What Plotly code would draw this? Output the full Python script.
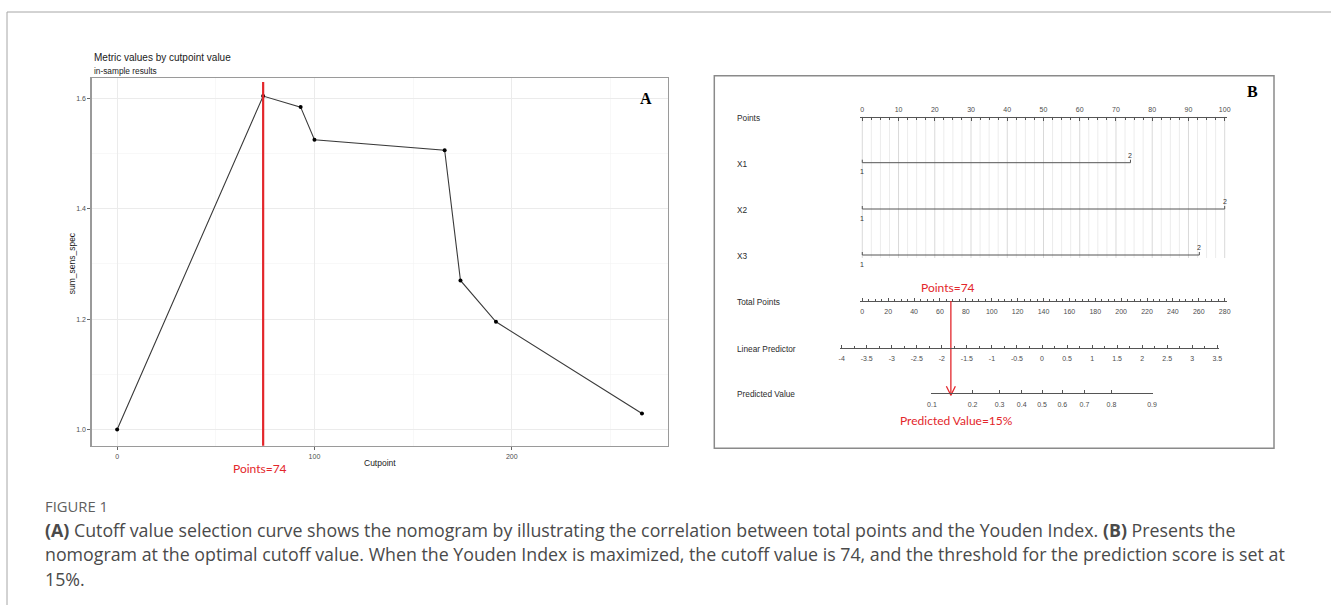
import math
import plotly.graph_objects as go

W, H = 1331, 605

# ---------------- Panel A data ----------------
cutpoints = [0, 74, 93, 100, 166, 174, 192, 266]
sum_sens_spec = [1.000, 1.604, 1.584, 1.525, 1.506, 1.270, 1.195, 1.029]
optimal_cutpoint = 74
a_x_ticks = [0, 100, 200]
a_y_ticks = [1.0, 1.2, 1.4, 1.6]

# ---------------- Panel B data (nomogram) ----------------
points_ticks = list(range(0, 101, 10))
points_minor_step = 2.5
predictors = ["X1", "X2", "X3"]
level_labels = ["1", "2"]
predictor_points = [[0, 74], [0, 100], [0, 93]]
total_points_ticks = list(range(0, 281, 20))
total_points_minor_step = 5
lp_ticks = [-4, -3.5, -3, -2.5, -2, -1.5, -1, -0.5, 0, 0.5, 1, 1.5, 2, 2.5, 3, 3.5]
lp_tick_labels = ["-4", "-3.5", "-3", "-2.5", "-2", "-1.5", "-1", "-0.5", "0",
                  "0.5", "1", "1.5", "2", "2.5", "3", "3.5"]
pred_value_ticks = [0.1, 0.2, 0.3, 0.4, 0.5, 0.6, 0.7, 0.8, 0.9]
pred_value_labels = ["0.1", "0.2", "0.3", "0.4", "0.5", "0.6", "0.7", "0.8", "0.9"]
optimal_total_points = 74
optimal_lp = -1.82
optimal_pred_label = "15%"

caption_head = "FIGURE 1"
caption_lines = [
    "<b>(A)</b> Cutoff value selection curve shows the nomogram by illustrating the correlation between total points and the Youden Index. <b>(B)</b> Presents the",
    "nomogram at the optimal cutoff value. When the Youden Index is maximized, the cutoff value is 74, and the threshold for the prediction score is set at",
    "15%.",
]

# ---------------- layout helpers ----------------
def fx(px):
    return px / W

def fy(py):
    return 1 - py / H

def logit(p):
    return math.log(p / (1 - p))

RED = "#e3262b"
AX_FONT = "Liberation Sans, Arial, sans-serif"
GREY_TXT = "#4d4d4d"
NOMO_LINE = "#555555"
CAP_FONT = "Open Sans, sans-serif"

# Panel A geometry (pixels)
A_L, A_R, A_T, A_B = 91.7, 668.0, 78.3, 445.7
A_XR = [-12.9, 279.2]
A_YR = [0.9706, 1.6362]

# Panel B geometry (pixels)
B_BOX = (714.3, 75.7, 1274.0, 448.3)
PTS_L, PTS_R = 862.3, 1224.7           # pixel of 0 and 100 on Points scale
LP_L, LP_R = 841.7, 1217.3             # pixel of -4 and 3.5 on LP scale
ROW = {"Points": 116.7, "X1": 162.7, "X2": 209.0, "X3": 255.0,
       "Total Points": 301.0, "Linear Predictor": 347.7, "Predicted Value": 393.3}
LABEL_X = 735.0

pad_pts = 0.6
pts_ppu = (PTS_R - PTS_L) / 100.0
pts_domain = [fx(PTS_L - pad_pts * pts_ppu), fx(PTS_R + pad_pts * pts_ppu)]
pts_range = [-pad_pts, 100 + pad_pts]

tp_ppu = (PTS_R - PTS_L) / 280.0
tp_pad = pad_pts * pts_ppu / tp_ppu
tp_range = [-tp_pad, 280 + tp_pad]

lp_ppu = (LP_R - LP_L) / 7.5
lp_pad = 0.04
lp_domain = [fx(LP_L - lp_pad * lp_ppu), fx(LP_R + lp_pad * lp_ppu)]
lp_range = [-4 - lp_pad, 3.5 + lp_pad]

pv_lo, pv_hi = logit(pred_value_ticks[0]), logit(pred_value_ticks[-1])
pv_pad = 0.02
pv_domain = [fx(LP_L + (pv_lo - pv_pad + 4) * lp_ppu), fx(LP_L + (pv_hi + pv_pad + 4) * lp_ppu)]
pv_range = [pv_lo - pv_pad, pv_hi + pv_pad]

fig = go.Figure()

# ---------------- Panel A traces ----------------
fig.add_trace(go.Scatter(
    x=cutpoints, y=sum_sens_spec, mode="lines+markers",
    line=dict(color="#3a3a3a", width=1.1),
    marker=dict(color="black", size=4),
    xaxis="x", yaxis="y", showlegend=False, hoverinfo="skip"))

# ---------------- Panel B traces ----------------
n_minor = int(round(100 / points_minor_step))
minor_vals = [i * points_minor_step for i in range(n_minor + 1)]
gx_minor, gy_minor, gx_major, gy_major = [], [], [], []
for v in minor_vals:
    if any(abs(v - t) < 1e-9 for t in points_ticks):
        gx_major += [v, v, None]
        gy_major += [ROW["Points"], ROW["X3"] + 3, None]
    else:
        gx_minor += [v, v, None]
        gy_minor += [ROW["Points"], ROW["X3"] + 3, None]
fig.add_trace(go.Scatter(x=gx_minor, y=gy_minor, mode="lines",
                         line=dict(color="#ececec", width=1),
                         xaxis="x2", yaxis="y2", showlegend=False, hoverinfo="skip"))
fig.add_trace(go.Scatter(x=gx_major, y=gy_major, mode="lines",
                         line=dict(color="#d9d9d9", width=1),
                         xaxis="x2", yaxis="y2", showlegend=False, hoverinfo="skip"))

for name, pts in zip(predictors, predictor_points):
    r = ROW[name]
    fig.add_trace(go.Scatter(
        x=[pts[0], pts[0], pts[1], pts[1]],
        y=[r - 3, r, r, r - 3],
        mode="lines", line=dict(color=NOMO_LINE, width=1),
        xaxis="x2", yaxis="y2", showlegend=False, hoverinfo="skip"))

fig.add_trace(go.Scatter(x=[total_points_ticks[0], total_points_ticks[-1]],
                         y=[ROW["Total Points"]] * 2, mode="lines",
                         line=dict(color="rgba(0,0,0,0)"),
                         xaxis="x3", yaxis="y2", showlegend=False, hoverinfo="skip"))
fig.add_trace(go.Scatter(x=[pv_lo, pv_hi], y=[ROW["Predicted Value"]] * 2, mode="lines",
                         line=dict(color="rgba(0,0,0,0)"),
                         xaxis="x5", yaxis="y2", showlegend=False, hoverinfo="skip"))

tip_y = ROW["Predicted Value"] + 2
head_dx = 4.5 / lp_ppu
fig.add_trace(go.Scatter(
    x=[optimal_lp, optimal_lp, None, optimal_lp - head_dx, optimal_lp, optimal_lp + head_dx],
    y=[ROW["Total Points"], tip_y, None, tip_y - 9, tip_y, tip_y - 9],
    mode="lines", line=dict(color=RED, width=1.3),
    xaxis="x4", yaxis="y2", showlegend=False, hoverinfo="skip"))

# ---------------- annotations ----------------
ann = []
ann.append(dict(text="Metric values by cutpoint value", x=fx(A_L), y=fy(57.3),
                xref="paper", yref="paper", xanchor="left", yanchor="middle",
                showarrow=False, font=dict(family=AX_FONT, size=10, color="#1a1a1a")))
ann.append(dict(text="in-sample results", x=fx(A_L), y=fy(70.7),
                xref="paper", yref="paper", xanchor="left", yanchor="middle",
                showarrow=False, font=dict(family=AX_FONT, size=8.3, color="#1a1a1a")))
ann.append(dict(text="<b>A</b>", x=fx(645.7), y=fy(99), xref="paper", yref="paper",
                xanchor="center", yanchor="middle", showarrow=False,
                font=dict(family="Liberation Serif, Times New Roman, serif", size=16, color="black")))
ann.append(dict(text="sum_sens_spec", x=fx(72.3), y=fy(263), xref="paper", yref="paper",
                xanchor="center", yanchor="middle", textangle=-90, showarrow=False,
                font=dict(family=AX_FONT, size=8.5, color="#1a1a1a")))
ann.append(dict(text="Cutpoint", x=fx(380), y=fy(463.3), xref="paper", yref="paper",
                xanchor="center", yanchor="middle", showarrow=False,
                font=dict(family=AX_FONT, size=8.5, color="#1a1a1a")))
ann.append(dict(text=f"Points={optimal_cutpoint}", x=optimal_cutpoint, xref="x", xshift=-3,
                y=fy(468.5), yref="paper", xanchor="center", yanchor="middle", showarrow=False,
                font=dict(family="Lato, sans-serif", size=12, color=RED)))

for name in ROW:
    ann.append(dict(text=name, x=fx(LABEL_X), y=ROW[name] + 1, xref="paper", yref="y2",
                    xanchor="left", yanchor="middle", showarrow=False,
                    font=dict(family=AX_FONT, size=8.3, color="#2b2b2b")))
for name, pts in zip(predictors, predictor_points):
    r = ROW[name]
    ann.append(dict(text=level_labels[0], x=pts[0], y=r + 9, xref="x2", yref="y2",
                    xanchor="center", yanchor="middle", showarrow=False,
                    font=dict(family=AX_FONT, size=7, color="#333")))
    ann.append(dict(text=level_labels[1], x=pts[1], y=r - 7.7, xref="x2", yref="y2",
                    xanchor="center", yanchor="middle", showarrow=False,
                    font=dict(family=AX_FONT, size=7, color="#333")))
ann.append(dict(text="<b>B</b>", x=fx(1252), y=fy(92), xref="paper", yref="paper",
                xanchor="center", yanchor="middle", showarrow=False,
                font=dict(family="Liberation Serif, Times New Roman, serif", size=16, color="black")))
ann.append(dict(text=f"Points={optimal_total_points}", x=optimal_lp, xref="x4", xshift=-2.5,
                y=ROW["Total Points"] - 13.3, yref="y2", xanchor="center", yanchor="middle",
                showarrow=False, font=dict(family="Lato, sans-serif", size=12, color=RED)))
ann.append(dict(text=f"Predicted Value={optimal_pred_label}", x=optimal_lp, xref="x4", xshift=6,
                y=ROW["Predicted Value"] + 27.4, yref="y2", xanchor="center", yanchor="middle",
                showarrow=False, font=dict(family="Lato, sans-serif", size=12, color=RED)))

ann.append(dict(text=caption_head, x=fx(43), y=fy(505.7), xref="paper", yref="paper",
                xanchor="left", yanchor="middle", showarrow=False,
                font=dict(family=CAP_FONT, size=14.8, color="#5f5f5f")))
for i, line in enumerate(caption_lines):
    ann.append(dict(text=line, x=fx(43), y=fy(530 + 24.4 * i), xref="paper", yref="paper",
                    xanchor="left", yanchor="middle", showarrow=False,
                    font=dict(family=CAP_FONT, size=17.8, color="#4a4a4a")))

# ---------------- shapes ----------------
shapes = [
    dict(type="line", xref="paper", yref="paper", x0=fx(7), x1=fx(7), y0=fy(12), y1=0,
         line=dict(color="#a6a6a6", width=1)),
    dict(type="line", xref="paper", yref="paper", x0=fx(7), x1=1, y0=fy(12), y1=fy(12),
         line=dict(color="#a6a6a6", width=1)),
    dict(type="rect", xref="paper", yref="paper", x0=fx(B_BOX[0]), x1=fx(B_BOX[2]),
         y0=fy(B_BOX[1]), y1=fy(B_BOX[3]), line=dict(color="#8a8a8a", width=1.5)),
    dict(type="line", xref="x", yref="y domain", x0=optimal_cutpoint, x1=optimal_cutpoint,
         y0=0, y1=0.99, line=dict(color=RED, width=2.2)),
]

tickfont_small = dict(family=AX_FONT, size=7, color=GREY_TXT)

fig.update_layout(
    width=W, height=H, autosize=False,
    margin=dict(l=0, r=0, t=0, b=0),
    paper_bgcolor="white", plot_bgcolor="rgba(0,0,0,0)",
    template="none", showlegend=False,
    annotations=ann, shapes=shapes,
    xaxis=dict(domain=[fx(A_L), fx(A_R)], range=A_XR, anchor="y",
               tickvals=a_x_ticks, ticks="outside", ticklen=3, tickcolor="#666",
               tickfont=tickfont_small, showline=True, mirror=True,
               linecolor="#9a9a9a", linewidth=1.4,
               showgrid=True, gridcolor="#ebebeb", gridwidth=1,
               minor=dict(dtick=50, tick0=0, showgrid=True, gridcolor="#f3f3f3",
                          gridwidth=0.6, ticks=""),
               zeroline=False, automargin=False),
    yaxis=dict(domain=[fy(A_B), fy(A_T)], range=A_YR, anchor="x",
               tickvals=a_y_ticks, tickformat=".1f", ticks="outside", ticklen=3,
               tickcolor="#666", tickfont=tickfont_small, showline=True, mirror=True,
               linecolor="#9a9a9a", linewidth=1.4,
               showgrid=True, gridcolor="#ebebeb", gridwidth=1,
               minor=dict(dtick=0.1, tick0=1.0, showgrid=True, gridcolor="#f3f3f3",
                          gridwidth=0.6, ticks=""),
               zeroline=False, automargin=False),
    xaxis2=dict(domain=pts_domain, range=pts_range, anchor="free", position=fy(ROW["Points"]),
                side="top", tickvals=points_ticks, ticks="inside", ticklen=3,
                tickcolor=NOMO_LINE, tickfont=tickfont_small, showline=True,
                linecolor=NOMO_LINE, linewidth=1, showgrid=False, zeroline=False,
                minor=dict(dtick=points_minor_step, tick0=0, ticks="inside", ticklen=2,
                           tickcolor=NOMO_LINE, showgrid=False),
                ticklabelstandoff=2, automargin=False),
    yaxis2=dict(domain=[0, 1], range=[H, 0], anchor="x2", visible=False,
                showgrid=False, zeroline=False),
    xaxis3=dict(domain=pts_domain, range=tp_range, anchor="free",
                position=fy(ROW["Total Points"]), side="bottom",
                tickvals=total_points_ticks, ticks="inside", ticklen=3,
                tickcolor=NOMO_LINE, tickfont=tickfont_small, showline=True,
                linecolor=NOMO_LINE, linewidth=1, showgrid=False, zeroline=False,
                minor=dict(dtick=total_points_minor_step, tick0=0, ticks="inside",
                           ticklen=2, tickcolor=NOMO_LINE, showgrid=False),
                ticklabelstandoff=4, automargin=False),
    xaxis4=dict(domain=lp_domain, range=lp_range, anchor="free",
                position=fy(ROW["Linear Predictor"]), side="bottom",
                tickvals=lp_ticks, ticktext=lp_tick_labels, ticks="inside", ticklen=3,
                tickcolor=NOMO_LINE, tickfont=tickfont_small, showline=True,
                linecolor=NOMO_LINE, linewidth=1, showgrid=False, zeroline=False,
                minor=dict(dtick=0.25, tick0=0, ticks="inside", ticklen=2,
                           tickcolor=NOMO_LINE, showgrid=False),
                ticklabelstandoff=4, automargin=False),
    xaxis5=dict(domain=pv_domain, range=pv_range, anchor="free",
                position=fy(ROW["Predicted Value"]), side="bottom",
                tickvals=[logit(p) for p in pred_value_ticks], ticktext=pred_value_labels,
                ticks="inside", ticklen=3, tickcolor=NOMO_LINE, tickfont=tickfont_small,
                showline=True, linecolor=NOMO_LINE, linewidth=1, showgrid=False,
                zeroline=False, ticklabelstandoff=4, automargin=False),
)

fig.write_html(
    "out.html",
    config={"displayModeBar": False, "staticPlot": True},
    post_script="document.body.style.margin='0';document.body.style.overflow='hidden';",
)
